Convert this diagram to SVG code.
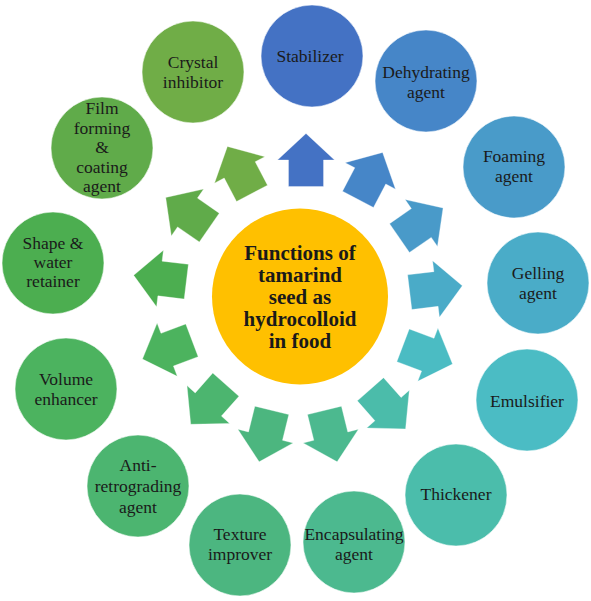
<svg xmlns="http://www.w3.org/2000/svg" xmlns:xlink="http://www.w3.org/1999/xlink" width="591" height="601" viewBox="0 0 591 601">
<style>
.c{stroke:#ffffff;stroke-opacity:0.55;stroke-width:1}
.t{font-family:"Liberation Serif","Times New Roman",serif;font-size:17.5px;fill:#1a1a1a;text-anchor:middle}
.h{font-family:"Liberation Serif","Times New Roman",serif;font-size:21px;font-weight:bold;fill:#1a1a1a;text-anchor:middle}
.a{stroke:#ffffff;stroke-opacity:0.4;stroke-width:0.8}
</style>
<defs>
<path id="arr" d="M-26.5,-17.5H0V-28.5L26.5,0L0,28.5V17.5H-26.5Z"/>
</defs>
<rect width="591" height="601" fill="#ffffff"/>
<g id="connectors">
<use xlink:href="#arr" class="a" fill="#4472C4" transform="translate(306,160) rotate(-90)"/>
<use xlink:href="#arr" class="a" fill="#4686C8" transform="translate(370.3,175.9) rotate(-62.31)"/>
<use xlink:href="#arr" class="a" fill="#499AC9" transform="translate(421.3,223) rotate(-34.62)"/>
<use xlink:href="#arr" class="a" fill="#4AABC8" transform="translate(436,289) rotate(-6.92)"/>
<use xlink:href="#arr" class="a" fill="#4BBCC3" transform="translate(427.8,354.7) rotate(20.77)"/>
<use xlink:href="#arr" class="a" fill="#4BBCAA" transform="translate(388,409.1) rotate(48.46)"/>
<use xlink:href="#arr" class="a" fill="#4CB98F" transform="translate(330.8,436.1) rotate(76.15)"/>
<use xlink:href="#arr" class="a" fill="#4CB67F" transform="translate(265.5,436.1) rotate(103.85)"/>
<use xlink:href="#arr" class="a" fill="#4CB56F" transform="translate(208.3,404.5) rotate(131.54)"/>
<use xlink:href="#arr" class="a" fill="#4CB35E" transform="translate(167.2,349.7) rotate(159.23)"/>
<use xlink:href="#arr" class="a" fill="#4CAE50" transform="translate(160,278.5) rotate(186.92)"/>
<use xlink:href="#arr" class="a" fill="#60AB4A" transform="translate(187.5,212.5) rotate(214.62)"/>
<use xlink:href="#arr" class="a" fill="#70AD47" transform="translate(239.7,169.9) rotate(242.31)"/>
</g>
<g id="center">
<circle cx="300" cy="296.5" r="88" fill="#FFC000"/>
<text class="h" x="300" y="259.5">Functions of</text>
<text class="h" x="300" y="281.7">tamarind</text>
<text class="h" x="300" y="303.9">seed as</text>
<text class="h" x="300" y="326.1">hydrocolloid</text>
<text class="h" x="300" y="348.3">in food</text>
</g>
<g id="stabilizer">
<circle class="c" cx="312" cy="56" r="51" fill="#4472C4"/>
<text class="t" x="310" y="62">Stabilizer</text>
</g>
<g id="dehydrating">
<circle class="c" cx="426" cy="81" r="51" fill="#4686C8"/>
<text class="t" x="426" y="77.5">Dehydrating</text>
<text class="t" x="426" y="97.5">agent</text>
</g>
<g id="foaming">
<circle class="c" cx="514" cy="167" r="51" fill="#499BC9"/>
<text class="t" x="514" y="161.5">Foaming</text>
<text class="t" x="514" y="181.5">agent</text>
</g>
<g id="gelling">
<circle class="c" cx="538" cy="283" r="51" fill="#4AACC8"/>
<text class="t" x="538" y="278.5">Gelling</text>
<text class="t" x="538" y="298.5">agent</text>
</g>
<g id="emulsifier">
<circle class="c" cx="527" cy="400" r="51" fill="#4BBCC4"/>
<text class="t" x="527" y="407">Emulsifier</text>
</g>
<g id="thickener">
<circle class="c" cx="456" cy="495" r="51" fill="#4BBDAB"/>
<text class="t" x="456" y="500">Thickener</text>
</g>
<g id="encapsulating">
<circle class="c" cx="354" cy="542" r="51" fill="#4CB98F"/>
<text class="t" x="354" y="540">Encapsulating</text>
<text class="t" x="354" y="560">agent</text>
</g>
<g id="texture">
<circle class="c" cx="240" cy="545" r="51" fill="#4CB680"/>
<text class="t" x="240" y="539.5">Texture</text>
<text class="t" x="240" y="559.5">improver</text>
</g>
<g id="antiretrograding">
<circle class="c" cx="138" cy="486" r="51" fill="#4CB570"/>
<text class="t" x="138" y="471">Anti-</text>
<text class="t" x="138" y="492">retrograding</text>
<text class="t" x="138" y="513">agent</text>
</g>
<g id="volume">
<circle class="c" cx="66" cy="389" r="51" fill="#4CB35F"/>
<text class="t" x="66" y="385">Volume</text>
<text class="t" x="66" y="404.5">enhancer</text>
</g>
<g id="shape">
<circle class="c" cx="53" cy="263" r="51" fill="#4CAE50"/>
<text class="t" x="53" y="248.5">Shape &amp;</text>
<text class="t" x="53" y="268.3">water</text>
<text class="t" x="53" y="287">retainer</text>
</g>
<g id="film">
<circle class="c" cx="102" cy="148" r="51" fill="#60AB4A"/>
<text class="t" x="102" y="114">Film</text>
<text class="t" x="102" y="133.5">forming</text>
<text class="t" x="102" y="153">&amp;</text>
<text class="t" x="102" y="172.5">coating</text>
<text class="t" x="102" y="191.5">agent</text>
</g>
<g id="crystal">
<circle class="c" cx="193" cy="72" r="51" fill="#70AD47"/>
<text class="t" x="193" y="67.5">Crystal</text>
<text class="t" x="193" y="87.5">inhibitor</text>
</g>
</svg>
